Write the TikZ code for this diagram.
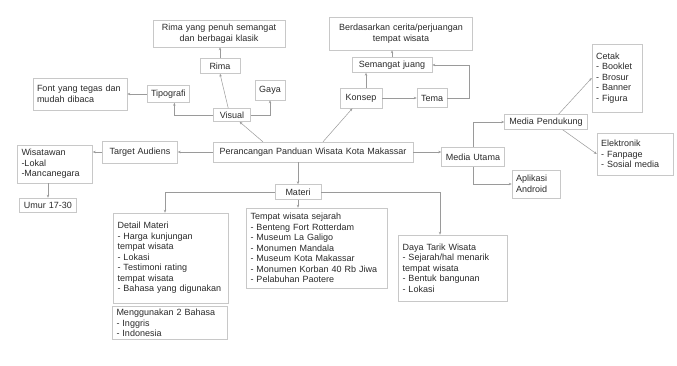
\documentclass[tikz,border=0pt]{standalone}
\usepackage{fontspec}
\setmainfont{Liberation Sans}
\usetikzlibrary{arrows.meta,calc}
\definecolor{boxc}{HTML}{C8C8C8}
\definecolor{linec}{HTML}{9A9A9A}
\definecolor{txtc}{HTML}{2A2A2A}
\tikzset{
  bx/.style={draw=boxc, line width=0.5pt, text=txtc, font=\fontsize{9}{10.5}\selectfont,
    inner xsep=4pt, inner ysep=1pt, minimum width=#1},
  bx/.default=10pt,
  lbox/.style 2 args={bx, text width=#1-8pt, minimum height=#2, align=left},
  cbox/.style 2 args={bx, text width=#1-8pt, minimum height=#2, align=center},
  arr/.style={draw=linec, line width=0.5pt, -{Stealth[length=3pt,width=2.4pt]}}
}
\begin{document}
\begin{tikzpicture}[x=1pt,y=-1pt]
\fill[white] (0,0) rectangle (677,366);
\useasboundingbox (0,0) rectangle (677,366);
% visual branch
\node[cbox={132pt}{27pt}] (rimabox) at (219,33.5) {Rima yang penuh semangat\\dan berbagai klasik};
\node[cbox={40pt}{15pt}] (rima) at (220,66) {Rima};
\node[cbox={30pt}{20pt}] (gaya) at (270,90) {Gaya};
\node[lbox={94pt}{32pt}] (font) at (80,94) {Font yang tegas dan\\mudah dibaca};
\node[cbox={42pt}{17pt}] (tipo) at (168,94) {Tipografi};
\node[cbox={37pt}{13pt}] (visual) at (232,115) {Visual};
% main
\node[cbox={200pt}{20pt}] (main) at (313,152) {Perancangan Panduan Wisata Kota Makassar};
% konsep branch
\node[cbox={42pt}{20pt}] (konsep) at (361,98) {Konsep};
\node[cbox={80pt}{15pt}] (semangat) at (392,65) {Semangat juang};
\node[cbox={143pt}{33pt}] (berdasar) at (401,33.5) {Berdasarkan cerita/perjuangan\\tempat wisata};
\node[cbox={30pt}{19pt}] (tema) at (432,98) {Tema};
% audiens
\node[cbox={75pt}{22pt}] (target) at (140,152) {Target Audiens};
\node[lbox={75pt}{38pt}] (wisatawan) at (55,164) {Wisatawan\\-Lokal\\-Mancanegara};
\node[cbox={57pt}{14pt}] (umur) at (48,205) {Umur 17-30};
% media
\node[cbox={63pt}{19pt}] (mutama) at (473,157) {Media Utama};
\node[cbox={83pt}{15pt}] (mpend) at (546,122) {Media Pendukung};
\node[lbox={48pt}{28pt}] (aplikasi) at (536,184) {Aplikasi\\Android};
\node[lbox={50pt}{68pt}] (cetak) at (617,78) {Cetak\\- Booklet\\- Brosur\\- Banner\\- Figura};
\node[lbox={76pt}{42pt}] (elektronik) at (635,154) {Elektronik\\- Fanpage\\- Sosial media};
% materi
\node[cbox={46pt}{15pt}] (materi) at (298,192) {Materi};
\node[lbox={115pt}{90pt}] (detail) at (171,258) {Detail Materi\\- Harga kunjungan\\tempat wisata\\- Lokasi\\- Testimoni rating\\tempat wisata\\- Bahasa yang digunakan};
\node[lbox={115pt}{33pt}] (bahasa) at (170,323) {Menggunakan 2 Bahasa\\- Inggris\\- Indonesia};
\node[lbox={141pt}{80pt}] (tempat) at (317,248) {Tempat wisata sejarah\\- Benteng Fort Rotterdam\\- Museum La Galigo\\- Monumen Mandala\\- Museum Kota Makassar\\- Monumen Korban 40 Rb Jiwa\\- Pelabuhan Paotere};
\node[lbox={109pt}{66pt}] (daya) at (453,268) {Daya Tarik Wisata\\- Sejarah/hal menarik\\tempat wisata\\- Bentuk bangunan\\- Lokasi};
% connectors: visual
\draw[arr] ($(main.north west)!0.25!(main.north east)$) -- ($(visual.south west)!0.7!(visual.south east)$);
\draw[arr] ($(visual.north west)!0.4!(visual.north east)$) -- (rima.south);
\draw[arr] (rima.north) -- (rima.north |- rimabox.south);
\coordinate (tipob) at ($(tipo.south)!0.3!(tipo.south east)$);
\draw[arr] (visual.west) -| (tipob);
\draw[arr] (visual.east) -| (gaya.south);
\draw[arr] (tipo.west) -- (font.east);
% konsep
\draw[arr] ($(main.north west)!0.55!(main.north east)$) -- ($(konsep.south west)!0.3!(konsep.south east)$);
\draw[arr] ([xshift=5pt]konsep.north) -- ([xshift=5pt]konsep.north |- semangat.south);
\draw[arr] (semangat.north) -- (semangat.north |- berdasar.south);
\draw[arr] (konsep.east) -- (tema.west);
\draw[arr] (tema.east) -- ++(22,0) |- (semangat.east);
% audiens
\draw[arr] (main.west) -- (target.east);
\draw[arr] (target.west) -- (target.west -| wisatawan.east);
\draw[arr] (umur.north |- wisatawan.south) -- (umur.north);
% media
\draw[arr] (main.east) -- (main.east -| mutama.west);
\draw[arr] (mutama.north) |- (mpend.west);
\draw[arr] (mutama.south) |- (aplikasi.west);
\draw[arr] ($(mpend.north west)!0.65!(mpend.north east)$) -- (cetak.west);
\draw[arr] ($(mpend.south west)!0.7!(mpend.south east)$) -- (elektronik.west);
% materi
\draw[arr] (main.south -| materi.north) -- (materi.north);
\draw[arr] (materi.west) -| ([xshift=-6pt]detail.north);
\draw[arr] (materi.south) -- (materi.south |- tempat.north);
\draw[arr] (materi.east) -| ([xshift=-13pt]daya.north);
\end{tikzpicture}
\end{document}
